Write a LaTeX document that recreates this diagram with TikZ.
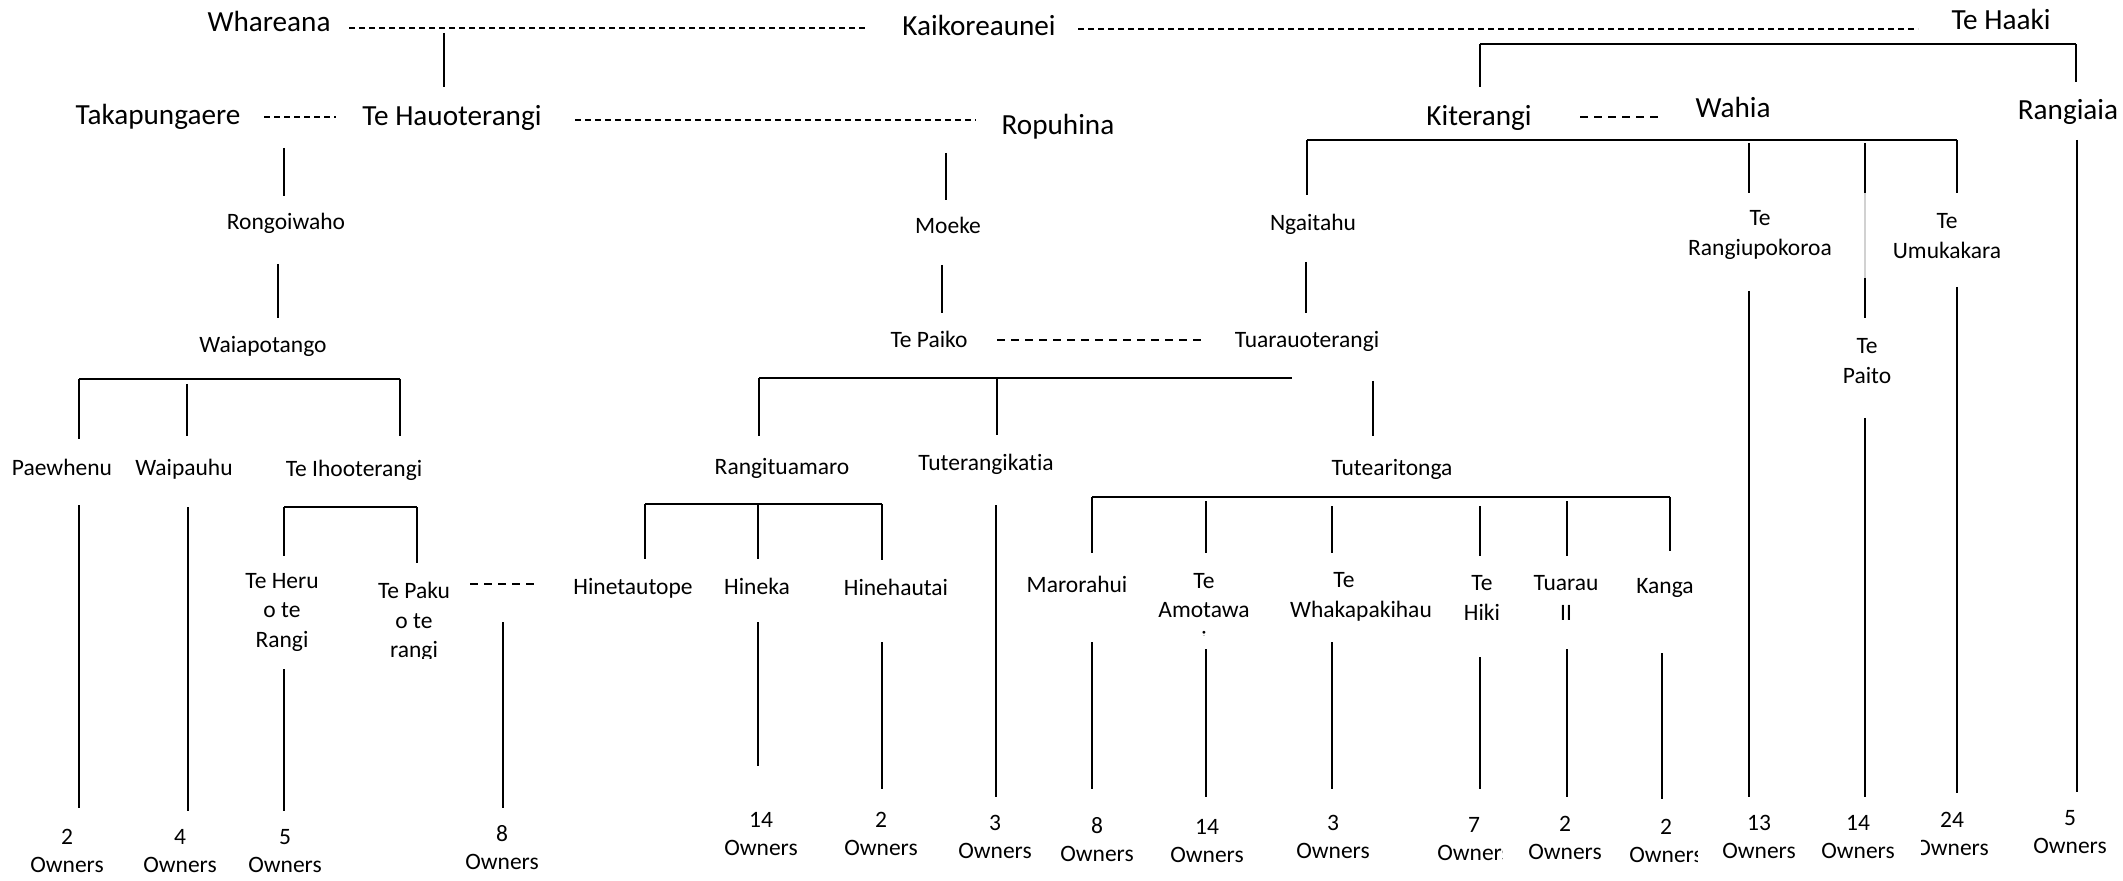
\documentclass[tikz,border=0pt]{standalone}
\usepackage{fontspec}
\setmainfont{Carlito}[Ligatures=NoCommon]
\begin{document}
\begin{tikzpicture}[x=0.5pt,y=-0.5pt,
  every node/.style={inner sep=0pt, outer sep=0pt},
  big/.style={font=\fontsize{14.6}{17}\selectfont, text height=0.7em, text depth=0.2em},
  small/.style={font=\fontsize{11.75}{15}\selectfont, text height=0.7em, text depth=0.2em},
  stack/.style={font=\fontsize{11.75}{14.75}\selectfont, align=center},
  count/.style={font=\fontsize{11.75}{14}\selectfont, align=center},
  link/.style={line width=1pt},
  bar/.style={line width=1.3pt},
  faint/.style={line width=0.6pt, black!18},
  marriage/.style={line width=1pt, dash pattern=on 3pt off 2pt},
  marriagewide/.style={line width=1pt, dash pattern=on 4pt off 3pt},
]
\fill[white] (0,0) rectangle (2123,881);
\useasboundingbox (0,0) rectangle (2123,881);

% ---------- first generations ----------
\node[big] (whareana) at (269,27) {Whareana};
\node[big] (kaikoreaunei) at (979,31) {Kaikoreaunei};
\node[big] (tehaaki) at (2001,25) {Te Haaki};

\node[big] (takapungaere) at (158,120) {Takapungaere};
\node[big] (tehauoterangi) at (452,121) {Te Hauoterangi};
\node[big] (ropuhina) at (1058,130) {Ropuhina};
\node[big] (kiterangi) at (1479,121) {Kiterangi};
\node[big] (wahia) at (1733,113) {Wahia};
\node[big] (rangiaia) at (2068,115) {Rangiaia};

\draw[marriage] (349,28) -- (868,28);
\draw[marriage] (1078,29) -- (1918,29);
\draw[link] (444,33) -- (444,87);
\draw[bar] (1480,44) -- (2076,44);
\draw[link] (1480,44) -- (1480,87);
\draw[link] (2076,44) -- (2076,82);

\draw[marriage] (264,117) -- (336,117);
\draw[marriage] (575,120) -- (976,120);
\draw[marriagewide] (1580,117) -- (1660,117);

% ---------- Te Hauoterangi line ----------
\node[small] (rongoiwaho) at (286,225) {Rongoiwaho};
\node[small] (waiapotango) at (263,348) {Waiapotango};
\node[small] (paewhenu) at (62,470) {Paewhenu};
\node[small] (waipauhu) at (184,470) {Waipauhu};
\node[small] (teihooterangi) at (354,471) {Te Ihooterangi};
\node[stack] (teheru) at (282,612) {Te Heru\\o te\\Rangi};
\begin{scope}
  \clip (340,560) rectangle (470,658);
  \node[stack] (tepaku) at (414,622) {Te Paku\\o te\\rangi};
\end{scope}

\draw[link] (284,148) -- (284,196);
\draw[link] (278,264) -- (278,318);
\draw[bar] (79,379) -- (400,379);
\draw[link] (79,379) -- (79,439);
\draw[link] (187,384) -- (187,436);
\draw[link] (400,379) -- (400,436);
\draw[link] (79,505) -- (79,808);
\draw[link] (188,507) -- (188,811);
\draw[bar] (284,507) -- (417,507);
\draw[link] (284,507) -- (284,556);
\draw[link] (417,507) -- (417,563);
\draw[link] (284,669) -- (284,811);
\draw[marriagewide] (470,584) -- (534,584);
\draw[link] (503,622) -- (503,808);

% ---------- Ropuhina and Kiterangi lines ----------
\node[small] (moeke) at (948,229) {Moeke};
\node[small] (ngaitahu) at (1313,226) {Ngaitahu};
\node[small] (tepaiko) at (929,343) {Te Paiko};
\node[small] (tuarauoterangi) at (1307,343) {Tuarauoterangi};
\node[small] (rangituamaro) at (782,469) {Rangituamaro};
\node[small] (tuterangikatia) at (986,466) {Tuterangikatia};
\node[small] (tutearitonga) at (1392,470) {Tutearitonga};
\node[small] (hinetautope) at (633,589) {Hinetautope};
\node[small] (hineka) at (757,589) {Hineka};
\node[small] (hinehautai) at (896,590) {Hinehautai};
\node[small] (marorahui) at (1077,587) {Marorahui};
\begin{scope}
  \clip (1140,560) rectangle (1270,635);
  \node[stack] (teamotawa) at (1204,610) {Te\\Amotawa\\i};
\end{scope}
\node[stack] (tewhakapakihau) at (1361,597) {Te\hspace*{17pt}\\Whakapakihau};
\node[stack] (tehiki) at (1482,598) {Te\\Hiki};
\node[stack] (tuarauii) at (1566,598) {Tuarau\\II};
\node[small] (kanga) at (1665,588) {Kanga};

\draw[link] (946,153) -- (946,200);
\draw[link] (942,265) -- (942,313);
\draw[bar] (1307,140) -- (1957,140);
\draw[link] (1307,140) -- (1307,195);
\draw[link] (1306,262) -- (1306,313);
\draw[marriagewide] (997,340) -- (1201,340);
\draw[bar] (759,378) -- (1292,378);
\draw[link] (759,378) -- (759,436);
\draw[link] (997,378) -- (997,435);
\draw[link] (1373,381) -- (1373,436);

\draw[bar] (645,504) -- (882,504);
\draw[link] (645,504) -- (645,559);
\draw[link] (758,504) -- (758,559);
\draw[link] (882,504) -- (882,560);
\draw[link] (758,622) -- (758,766);
\draw[link] (882,642) -- (882,789);
\draw[link] (996,505) -- (996,797);

\draw[bar] (1092,497) -- (1670,497);
\draw[link] (1092,497) -- (1092,553);
\draw[link] (1206,501) -- (1206,553);
\draw[link] (1332,506) -- (1332,553);
\draw[link] (1480,506) -- (1480,556);
\draw[link] (1567,501) -- (1567,556);
\draw[link] (1670,497) -- (1670,551);
\draw[link] (1092,642) -- (1092,789);
\draw[link] (1206,649) -- (1206,797);
\draw[link] (1332,642) -- (1332,789);
\draw[link] (1480,657) -- (1480,789);
\draw[link] (1567,649) -- (1567,797);
\draw[link] (1662,653) -- (1662,799);

% ---------- Wahia and Te Haaki lines ----------
\node[stack] (terangiupokoroa) at (1760,235) {Te\\Rangiupokoroa};
\node[stack] (teumukakara) at (1947,236) {Te\\Umukakara};
\node[stack] (tepaito) at (1867,361) {Te\\Paito};

\draw[link] (1749,143) -- (1749,193);
\draw[link] (1865,143) -- (1865,193);
\draw[faint] (1865,193) -- (1865,278);
\draw[link] (1865,278) -- (1865,318);
\draw[link] (1957,140) -- (1957,193);
\draw[link] (1749,291) -- (1749,797);
\draw[link] (1865,418) -- (1865,797);
\draw[link] (1957,287) -- (1957,793);
\draw[link] (2077,140) -- (2077,792);

% ---------- owner counts ----------
\node[count] (own1) at (67,851) {2\\Owners};
\node[count] (own2) at (180,851) {4\\Owners};
\node[count] (own3) at (285,851) {5\\Owners};
\node[count] (own4) at (502,848) {8\\Owners};
\node[count] (own5) at (761,834) {14\\Owners};
\node[count] (own6) at (881,834) {2\\Owners};
\node[count] (own7) at (995,837) {3\\Owners};
\node[count] (own8) at (1097,840) {8\\Owners};
\node[count] (own9) at (1207,841) {14\\Owners};
\node[count] (own10) at (1333,837) {3\\Owners};
\begin{scope}
  \clip (1420,800) rectangle (1502,881);
  \node[count] (own11) at (1474,839) {7\\Owners};
\end{scope}
\node[count] (own12) at (1565,838) {2\\Owners};
\begin{scope}
  \clip (1610,800) rectangle (1697,881);
  \node[count] (own13) at (1666,841) {2\\Owners};
\end{scope}
\node[count] (own14) at (1759,837) {13\\Owners};
\node[count] (own15) at (1858,837) {14\\Owners};
\begin{scope}
  \clip (1921,800) rectangle (2010,881);
  \node[count] (own16) at (1952,834) {24\\Owners};
\end{scope}
\node[count] (own17) at (2070,832) {5\\Owners};
\end{tikzpicture}
\end{document}
